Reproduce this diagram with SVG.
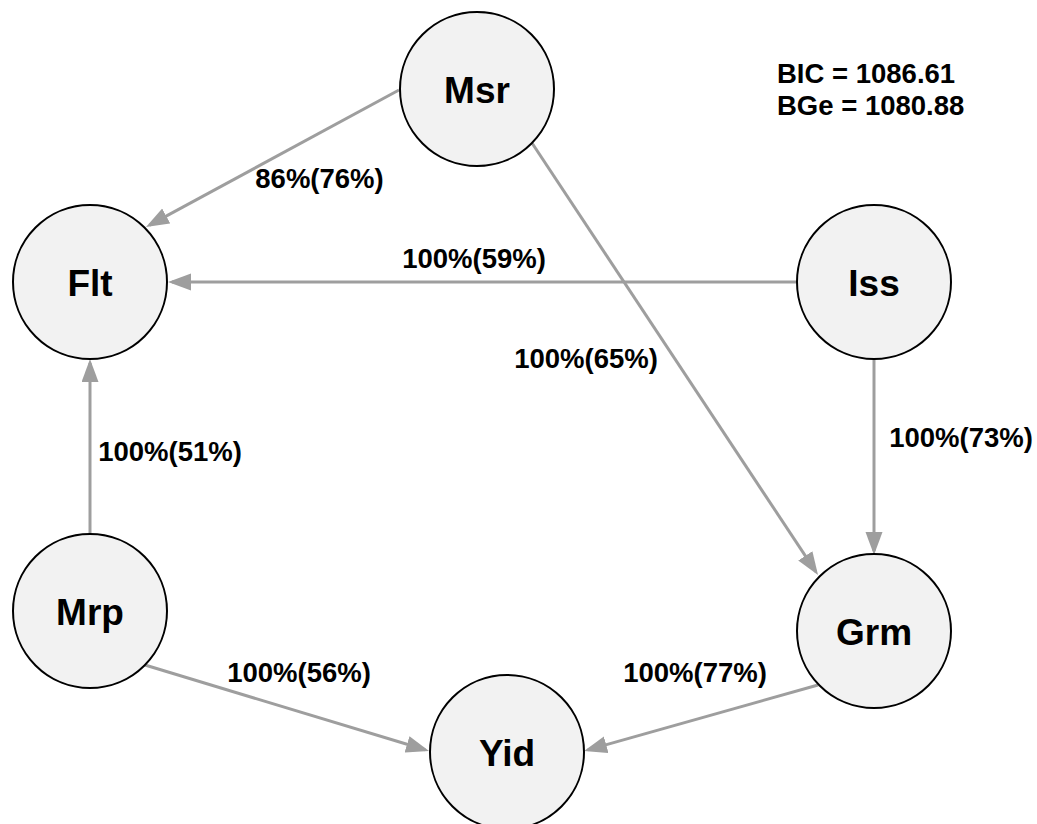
<svg xmlns="http://www.w3.org/2000/svg" width="1037" height="824" viewBox="0 0 1037 824">
<style>
.node circle{fill:#f2f2f2;stroke:#000;stroke-width:2}
.node text{font-family:"Liberation Sans",Arial,sans-serif;font-weight:bold;font-size:37px;text-anchor:middle;fill:#000}
.edges line{stroke:#9e9e9e;stroke-width:3;marker-end:url(#arr)}
.lbl{font-family:"Liberation Sans",Arial,sans-serif;font-weight:bold;font-size:27.5px;text-anchor:middle;fill:#000}
.score{font-family:"Liberation Sans",Arial,sans-serif;font-weight:bold;font-size:27.5px;fill:#000}
</style>
<defs>
<marker id="arr" markerUnits="userSpaceOnUse" markerWidth="24" markerHeight="18" refX="19" refY="8.5" orient="auto">
<path d="M0,0 L23,8.5 L0,17 z" fill="#9e9e9e"/>
</marker>
</defs>
<rect width="1037" height="824" fill="#fff"/>
<g class="edges">
<line x1="399" y1="90" x2="149.5" y2="225.1"/>
<line x1="796" y1="282" x2="172" y2="282"/>
<line x1="532" y1="143" x2="815.8" y2="571.7"/>
<line x1="874" y1="358" x2="874" y2="551"/>
<line x1="90" y1="535" x2="90" y2="363"/>
<line x1="145" y1="665" x2="425.2" y2="749.8"/>
<line x1="818" y1="685" x2="587.9" y2="749.9"/>
</g>
<g id="edge-labels">
<text class="lbl" x="319.5" y="188">86%(76%)</text>
<text class="lbl" x="474" y="268">100%(59%)</text>
<text class="lbl" x="586" y="368">100%(65%)</text>
<text class="lbl" x="961" y="447">100%(73%)</text>
<text class="lbl" x="170" y="461">100%(51%)</text>
<text class="lbl" x="299" y="682">100%(56%)</text>
<text class="lbl" x="695" y="682">100%(77%)</text>
</g>
<g id="node-Msr" class="node"><circle cx="477" cy="89" r="77"/><text x="477" y="103">Msr</text></g>
<g id="node-Flt" class="node"><circle cx="90" cy="282" r="77"/><text x="90" y="296">Flt</text></g>
<g id="node-Iss" class="node"><circle cx="874" cy="282" r="77"/><text x="874" y="296">Iss</text></g>
<g id="node-Mrp" class="node"><circle cx="90" cy="611" r="77"/><text x="90" y="625">Mrp</text></g>
<g id="node-Grm" class="node"><circle cx="874" cy="631" r="77"/><text x="874" y="645">Grm</text></g>
<g id="node-Yid" class="node"><circle cx="507" cy="752" r="77"/><text x="507" y="766">Yid</text></g>
<g id="scores">
<text class="score" x="777" y="83">BIC = 1086.61</text>
<text class="score" x="777" y="115">BGe = 1080.88</text>
</g>
</svg>
